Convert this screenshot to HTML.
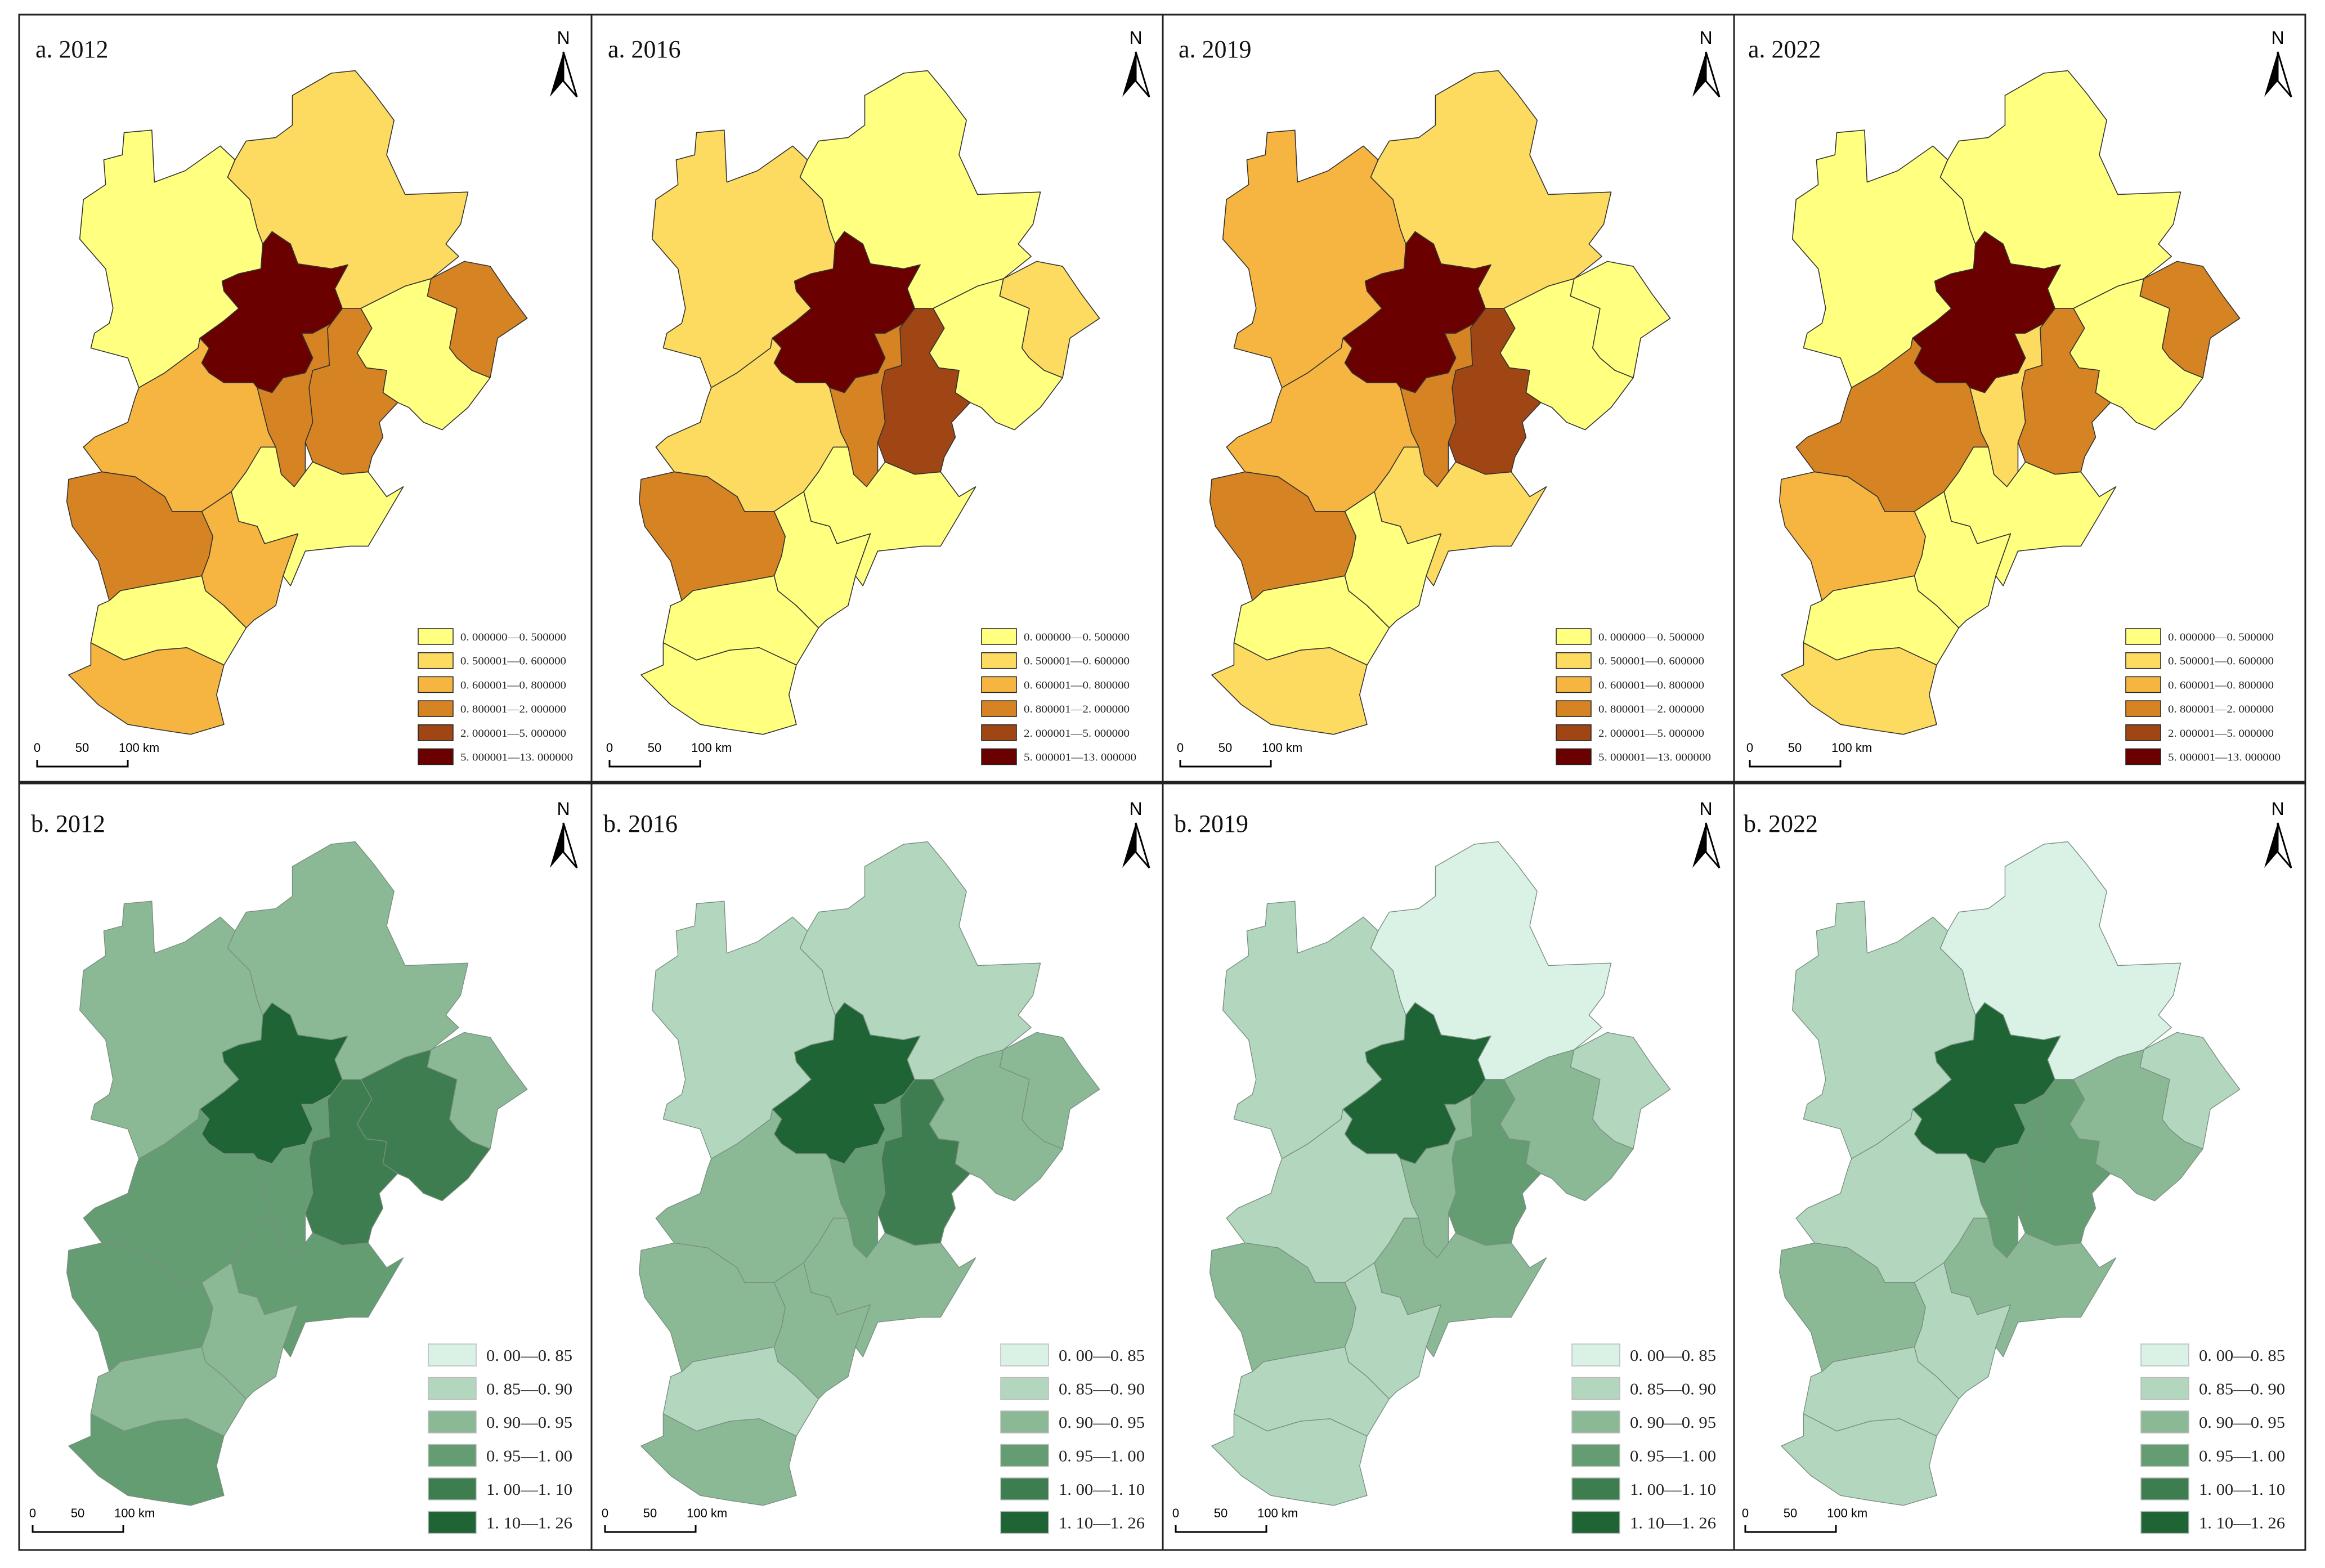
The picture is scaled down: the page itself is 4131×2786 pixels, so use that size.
<!DOCTYPE html>
<html><head><meta charset="utf-8"><style>
html,body{margin:0;padding:0;background:#fff;}
svg{display:block;}
text{font-family:"Liberation Serif","Noto Serif CJK SC",serif;}
.sans{font-family:"Liberation Sans",sans-serif;}
</style></head><body>
<svg id="fig" width="4131" height="2786" viewBox="0 0 4131 2786" xmlns="http://www.w3.org/2000/svg">
<rect x="0" y="0" width="4131" height="2786" fill="#fff"/>
</svg>
<script>
// Data: class index per region per panel
const regions = ["Zhangjiakou","Chengde","Qinhuangdao","Tangshan","Tianjin","Langfang","Baoding","Cangzhou","Shijiazhuang","Hengshui","Xingtai","Handan","Beijing"];
const yearsA = ["a. 2012","a. 2016","a. 2019","a. 2022"];
const yearsB = ["b. 2012","b. 2016","b. 2019","b. 2022"];
const classA2012 = [0,1,3,0,3,3,2,0,3,2,0,2,5];
const classA2016 = [1,0,1,0,4,3,1,0,3,0,0,0,5];
const classA2019 = [2,1,0,0,4,3,2,1,3,0,0,1,5];
const classA2022 = [0,0,3,0,3,1,3,0,2,0,0,1,5];
const classB2012 = [2,2,2,4,4,3,3,3,3,2,2,3,5];
const classB2016 = [1,1,2,2,4,3,2,2,2,2,1,2,5];
const classB2019 = [1,0,1,2,3,2,1,2,2,1,1,1,5];
const classB2022 = [1,0,1,2,3,3,1,2,2,1,1,1,5];
const legendA = ["0. 000000\u20140. 500000","0. 500001\u20140. 600000","0. 600001\u20140. 800000","0. 800001\u20142. 000000","2. 000001\u20145. 000000","5. 000001\u201413. 000000"];
const legendB = ["0. 00\u20140. 85","0. 85\u20140. 90","0. 90\u20140. 95","0. 95\u20141. 00","1. 00\u20141. 10","1. 10\u20141. 26"];
const colorsA = ["#FFFF80","#FCDB60","#F6B540","#D58323","#A04514","#6B0000"];
const colorsB = ["#DAF2E6","#B3D6BF","#8BB996","#649D71","#3D7D4F","#1F6434"];

const shapes = [
"290,245 365,240 372,345 455,322 550,272 590,300 570,335 630,380 650,440 665,470 660,520 600,530 555,545 560,565 600,600 560,625 495,660 490,680 400,730 330,760 300,700 200,680 210,650 250,630 260,600 240,520 170,460 180,380 240,350 235,300 285,290",
"570,335 590,300 620,262 700,255 745,230 745,170 850,125 915,120 965,165 1020,220 1000,290 1050,370 1220,365 1200,430 1160,470 1195,495 1120,540 1050,555 930,600 880,600 860,560 895,512 850,520 760,510 740,470 720,460 690,445 665,470 650,440 630,380",
"1120,540 1210,505 1280,515 1330,570 1380,620 1300,660 1280,740 1230,725 1190,700 1170,680 1190,600 1110,575",
"930,600 1050,555 1120,540 1110,575 1190,600 1170,680 1190,700 1230,725 1280,740 1250,770 1220,800 1150,845 1100,830 1060,800 1030,790 990,770 1000,725 945,720 920,690 960,640",
"880,600 930,600 960,640 920,690 945,720 1000,725 990,770 1030,790 980,830 990,860 960,900 950,930 880,935 800,910 780,870 800,830 790,760 800,725 845,715 840,640 850,630",
"770,650 800,650 850,630 840,640 845,715 800,725 790,760 800,830 780,870 780,930 750,960 715,935 700,880 680,850 650,760 690,770 720,740 780,730 800,700",
"330,760 400,730 490,680 495,660 520,680 500,710 520,730 560,750 640,750 650,760 680,850 700,880 660,880 620,930 580,970 500,1010 420,1010 400,980 320,940 230,930 180,880 210,860 300,830 320,780",
"660,880 700,880 715,935 750,960 780,930 800,910 880,935 950,930 1000,980 1045,960 990,1030 950,1080 900,1080 780,1090 740,1160 720,1140 760,1055 670,1075 650,1040 600,1030 580,970 620,930",
"140,945 230,930 320,940 400,980 420,1010 500,1010 530,1060 520,1100 500,1140 430,1150 350,1160 280,1170 250,1190 220,1110 150,1040 135,990",
"500,1010 580,970 600,1030 650,1040 670,1075 760,1055 720,1140 700,1200 640,1230 620,1245 560,1200 510,1170 500,1140 520,1100 530,1060",
"250,1190 280,1170 350,1160 430,1150 500,1140 510,1170 560,1200 620,1245 560,1320 460,1285 380,1290 290,1310 200,1275 220,1200",
"200,1275 290,1310 380,1290 460,1285 560,1320 540,1380 560,1440 470,1460 380,1450 300,1440 220,1400 140,1340 200,1320",
"690,445 720,460 740,470 760,510 850,520 895,512 860,560 880,600 850,630 800,650 770,650 800,700 780,730 720,740 690,770 650,760 640,750 560,750 520,730 500,710 520,680 495,660 560,625 600,600 560,565 555,545 600,530 660,520 665,470"
];

const NS="http://www.w3.org/2000/svg";
const svg=document.getElementById('fig');
function mk(tag,attrs,parent){const e=document.createElementNS(NS,tag);for(const k in attrs)e.setAttribute(k,attrs[k]);(parent||svg).appendChild(e);return e;}

const colX=[0,1017,2031,3043];
const rowY=[0,1370];
const classesA=[classA2012,classA2016,classA2019,classA2022];
const classesB=[classB2012,classB2016,classB2019,classB2022];
const legXA=[0,1001,2022,3034];
const legXB=[0,1017,2032,3043];
const arrowX=[0,1017,2030,3046];

// panel borders
const bx=[34,1051,2066,3081,4096];
for(let r=0;r<2;r++){
  for(let c=0;c<4;c++){
    const y0 = r===0?26:1392, y1 = r===0?1389:2754;
    const b=mk('rect',{x:bx[c],y:y0,width:bx[c+1]-bx[c],height:y1-y0,fill:'none',stroke:'#222','stroke-width':3});
    
    
  }
}

for(let r=0;r<2;r++){
  for(let c=0;c<4;c++){
    const cls = r===0?classesA[c]:classesB[c];
    const cols = r===0?colorsA:colorsB;
    const g=mk('g',{transform:`translate(${30+colX[c]},${20+rowY[r]}) scale(0.657,0.88)`});
    
    
    shapes.forEach((pts,i)=>{
      const p=mk('polygon',{points:pts,fill:cols[cls[i]],stroke:r===0?'#333':'#7a8f80','stroke-width':r===0?1.6:1.4,'vector-effect':'non-scaling-stroke','stroke-linejoin':'round'},g);
      
      
    });
    // title
    const t=mk('text',{x:(r===0?63:55)+colX[c],y:r===0?102:1478,'font-size':44,fill:'#111'});
    t.textContent = r===0?yearsA[c]:yearsB[c];
    
    
    // north arrow
    const ax=1001+arrowX[c], ay=r===0?92:1462;
    const n=mk('text',{x:ax,y:ay-14,'font-size':32,'text-anchor':'middle',class:'sans',fill:'#000'});
    n.textContent='N';
    
    
    const na=mk('g',{});
    
    
    mk('polygon',{points:`${ax},${ay} ${ax-24},${ay+80} ${ax},${ay+52}`,fill:'#000'},na);
    mk('polygon',{points:`${ax},${ay} ${ax+24},${ay+80} ${ax},${ay+52}`,fill:'#fff',stroke:'#000','stroke-width':3},na);
    // scale bar
    const sx=(r===0?66:58)+colX[c], sy=r===0?1362:2722;
    const sb=mk('g',{});
    
    
    mk('polyline',{points:`${sx},${sy-12} ${sx},${sy} ${sx+161},${sy} ${sx+161},${sy-12}`,fill:'none',stroke:'#000','stroke-width':3},sb);
    [['0',0],['50',80],['100 km',145]].forEach(([s,o])=>{
      const tt=mk('text',{x:sx+o,y:sy-26,'font-size':22,class:'sans','text-anchor':o===0?'middle':'start',fill:'#000'},sb);
      tt.textContent=s;
      if(o===80){tt.setAttribute('text-anchor','middle');}
    });
    // legend
    const lg=mk('g',{});
    
    
    const labels=r===0?legendA:legendB;
    for(let k=0;k<6;k++){
      if(r===0){
        const lx=743+legXA[c], ly=1117+k*42.7;
        const sw=mk('rect',{x:lx,y:ly,width:62,height:28,fill:cols[k],stroke:'#222','stroke-width':1.5},lg);
        
        
        const tx=mk('text',{x:lx+75,y:ly+21,'font-size':19,fill:'#222',textLength:k===5?200:188,lengthAdjust:'spacingAndGlyphs'},lg);
        tx.textContent=labels[k];
        
        
      } else {
        const lx=761+legXB[c], ly=2388+k*59.5;
        const sw=mk('rect',{x:lx,y:ly,width:85,height:39,fill:cols[k],stroke:'#bbb','stroke-width':1.5},lg);
        
        
        const tx=mk('text',{x:lx+103,y:ly+30,'font-size':28,fill:'#222',textLength:153,lengthAdjust:'spacingAndGlyphs'},lg);
        tx.textContent=labels[k];
        
        
      }
    }
  }
}
</script>
</body></html>
